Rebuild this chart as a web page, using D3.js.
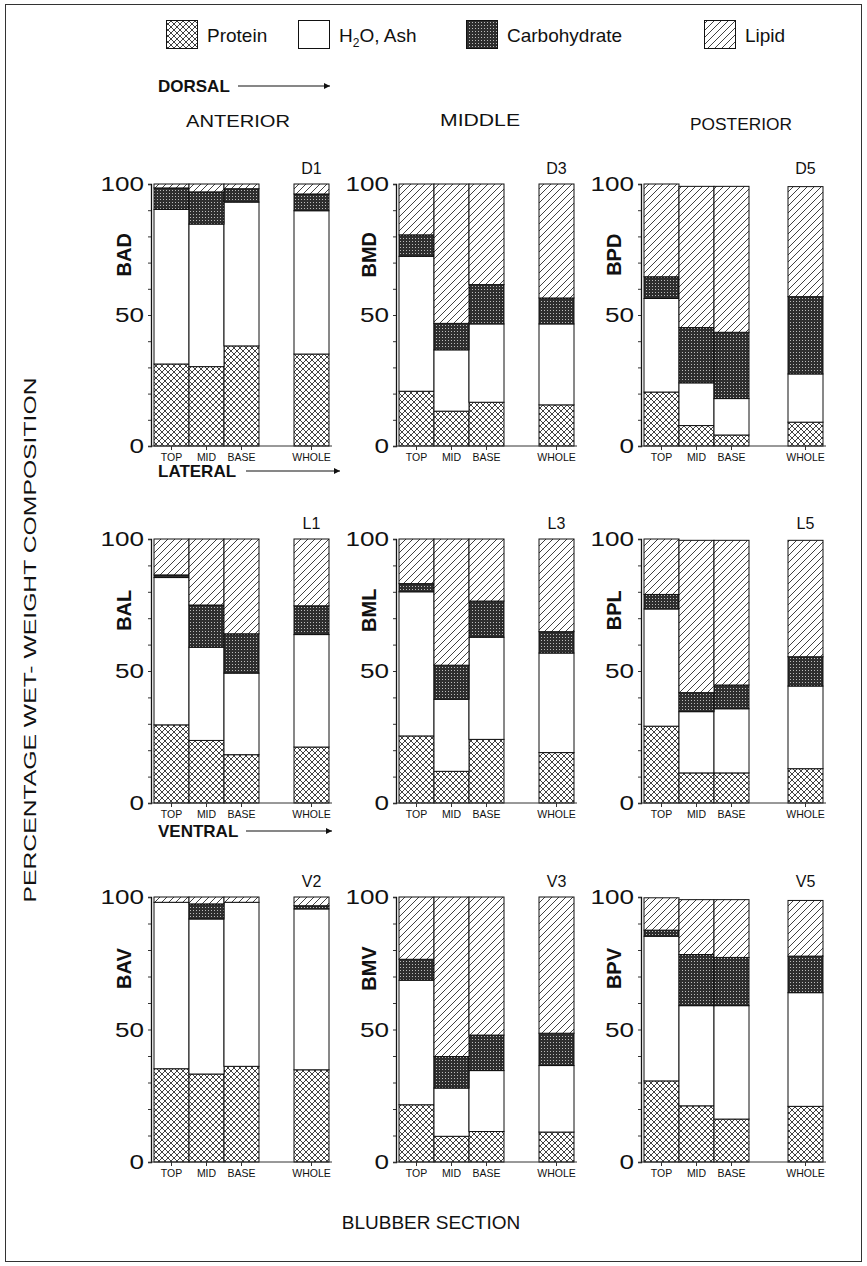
<!DOCTYPE html>
<html>
<head>
<meta charset="utf-8">
<script src="https://cdn.jsdelivr.net/npm/d3@7"></script>
<style>
  html, body { margin: 0; padding: 0; background: #fff; }
  svg { display: block; font-family: "Liberation Sans", Arial, Helvetica, sans-serif; }
</style>
</head>
<body>
<svg id="chart" width="867" height="1266"></svg>
<script>
// Blubber composition (% wet weight) by section for nine sampling sites.
const panelNames = ["BAD", "BMD", "BPD", "BAL", "BML", "BPL", "BAV", "BMV", "BPV"];
const siteCodes  = ["D1", "D3", "D5", "L1", "L3", "L5", "V2", "V3", "V5"];
const sections   = ["TOP", "MID", "BASE", "WHOLE"];
const regions    = ["DORSAL", "LATERAL", "VENTRAL"];
const positions  = ["ANTERIOR", "MIDDLE", "POSTERIOR"];
const yTicks     = [0, 10, 20, 30, 40, 50, 60, 70, 80, 90, 100];
const yLabels    = [0, 50, 100];

// one row per panel, values for TOP, MID, BASE, WHOLE
const protein = [
  [31.3, 30.3, 38.2, 35.1],
  [20.9, 13.3, 16.7, 15.7],
  [20.6,  7.8,  4.2,  9.1],
  [29.6, 23.7, 18.3, 21.2],
  [25.4, 12.0, 24.1, 19.1],
  [29.1, 11.4, 11.4, 13.0],
  [35.2, 33.2, 36.1, 34.8],
  [21.6,  9.7, 11.5, 11.3],
  [30.6, 21.2, 16.2, 21.0]
];
const waterAsh = [
  [59.0, 54.4, 54.9, 54.7],
  [51.5, 23.4, 29.9, 30.9],
  [35.7, 16.3, 13.9, 18.4],
  [55.8, 35.3, 30.9, 42.6],
  [54.6, 27.3, 38.7, 37.7],
  [44.4, 23.2, 24.3, 31.3],
  [62.8, 58.5, 61.9, 60.7],
  [47.0, 18.2, 23.0, 25.1],
  [54.6, 37.8, 42.8, 42.9]
];
const carbohydrate = [
  [ 8.2, 12.3,  5.1,  6.4],
  [ 8.2, 10.1, 15.0,  9.9],
  [ 8.3, 21.1, 25.3, 29.5],
  [ 1.0, 16.0, 14.9, 10.9],
  [ 3.1, 12.9, 13.7,  8.1],
  [ 5.5,  7.2,  9.0, 11.1],
  [ 0.0,  5.7,  0.0,  1.2],
  [ 7.9, 11.9, 13.4, 12.2],
  [ 2.3, 19.3, 18.2, 13.8]
];
const lipid = [
  [ 1.5,  3.0,  1.8,  3.8],
  [19.4, 53.2, 38.4, 43.5],
  [35.4, 53.9, 55.7, 42.0],
  [13.6, 25.0, 35.9, 25.3],
  [16.9, 47.8, 23.5, 35.1],
  [21.0, 57.7, 54.8, 44.1],
  [ 2.0,  2.6,  2.0,  3.3],
  [23.5, 60.2, 52.1, 51.4],
  [12.2, 20.7, 21.8, 21.0]
];

const keys = ["protein", "waterAsh", "carbohydrate", "lipid"];
const legendLabels = ["Protein", "H2O, Ash", "Carbohydrate", "Lipid"];

const svg = d3.select("#chart");
const defs = svg.append("defs");

// fill patterns
const pCross = defs.append("pattern").attr("id", "pat-protein")
  .attr("patternUnits", "userSpaceOnUse").attr("width", 6).attr("height", 6);
pCross.append("rect").attr("width", 6).attr("height", 6).attr("fill", "#fff");
pCross.append("path").attr("d", "M0,0L6,6M6,0L0,6")
  .attr("stroke", "#111").attr("stroke-width", 0.8).attr("fill", "none");

const pWater = defs.append("pattern").attr("id", "pat-waterAsh")
  .attr("patternUnits", "userSpaceOnUse").attr("width", 6).attr("height", 6);
pWater.append("rect").attr("width", 6).attr("height", 6).attr("fill", "#fff");

const pCarb = defs.append("pattern").attr("id", "pat-carbohydrate")
  .attr("patternUnits", "userSpaceOnUse").attr("width", 3).attr("height", 3);
pCarb.append("rect").attr("width", 3).attr("height", 3).attr("fill", "#2e2e2e");
pCarb.append("rect").attr("x", 1).attr("y", 1).attr("width", 1).attr("height", 1).attr("fill", "#bbb");

const pLipid = defs.append("pattern").attr("id", "pat-lipid")
  .attr("patternUnits", "userSpaceOnUse").attr("width", 7).attr("height", 7);
pLipid.append("rect").attr("width", 7).attr("height", 7).attr("fill", "#fff");
pLipid.append("path").attr("d", "M0,7L7,0M-1,1L1,-1M6,8L8,6")
  .attr("stroke", "#111").attr("stroke-width", 0.8).attr("fill", "none");

const arrowMarker = defs.append("marker").attr("id", "arrowhead")
  .attr("viewBox", "0 0 10 10").attr("refX", 10).attr("refY", 5)
  .attr("markerWidth", 14).attr("markerHeight", 6).attr("markerUnits", "userSpaceOnUse")
  .attr("orient", "auto");
arrowMarker.append("path").attr("d", "M0,0L10,5L0,10Z").attr("fill", "#111");

// outer frame
svg.append("rect").attr("x", 5.5).attr("y", 4.5).attr("width", 856).attr("height", 1257)
  .attr("fill", "none").attr("stroke", "#333").attr("stroke-width", 1);

// legend
const legendX = [166, 298, 466, 704];
const legend = svg.append("g");
keys.forEach((k, i) => {
  legend.append("rect").attr("x", legendX[i] + 0.5).attr("y", 20.5).attr("width", 31).attr("height", 28)
    .attr("fill", `url(#pat-${k})`).attr("stroke", "#111").attr("stroke-width", 1);
  const t = legend.append("text").attr("x", legendX[i] + 41).attr("y", 42)
    .attr("font-size", 19).attr("fill", "#111");
  if (k === "waterAsh") {
    t.append("tspan").text("H");
    t.append("tspan").attr("font-size", 12).attr("dy", 5).text("2");
    t.append("tspan").attr("dy", -5).text("O, Ash");
  } else {
    t.text(legendLabels[i]);
  }
});

// region headers with arrows
const regionY = [92, 477, 837];
const arrowSpan = [[238, 330], [246, 340], [246, 332]];
regions.forEach((r, i) => {
  svg.append("text").attr("x", 158).attr("y", regionY[i]).attr("font-size", 17)
    .attr("font-weight", "bold").attr("fill", "#111").text(r);
  svg.append("line").attr("x1", arrowSpan[i][0]).attr("x2", arrowSpan[i][1])
    .attr("y1", regionY[i] - 6).attr("y2", regionY[i] - 6)
    .attr("stroke", "#111").attr("stroke-width", 1.2).attr("marker-end", "url(#arrowhead)");
});

// position headers
const posX = [238, 480, 741];
const posY = [127, 126, 130];
const posLen = [104, 80, 102];
positions.forEach((p, i) => {
  svg.append("text").attr("x", posX[i]).attr("y", posY[i]).attr("text-anchor", "middle")
    .attr("font-size", 16).attr("fill", "#111")
    .attr("textLength", posLen[i]).attr("lengthAdjust", "spacingAndGlyphs").text(p);
});

// axis titles
svg.append("text").attr("transform", "translate(36,640) rotate(-90)")
  .attr("text-anchor", "middle").attr("font-size", 17).attr("fill", "#111")
  .attr("textLength", 525).attr("lengthAdjust", "spacingAndGlyphs")
  .text("PERCENTAGE WET- WEIGHT COMPOSITION");
svg.append("text").attr("x", 431).attr("y", 1229).attr("text-anchor", "middle")
  .attr("font-size", 19).attr("fill", "#111").text("BLUBBER SECTION");

// panel geometry
const colAxisX = [151, 396, 641];
const rowTop = [184, 539, 897];
const rowBottom = [446, 803, 1162];
const barW = 35;
const wholeGap = [0, 0, 4];

panelNames.forEach((name, p) => {
  const row = Math.floor(p / 3), col = p % 3;
  const ax = colAxisX[col];
  const y = d3.scaleLinear().domain([0, 100]).range([rowBottom[row], rowTop[row]]);
  const x = d3.scaleBand().domain(["TOP", "MID", "BASE", "gap", "WHOLE"])
    .range([ax + 3, ax + 3 + barW * 5]).paddingInner(0).paddingOuter(0);
  const bx = s => x(s) + (s === "WHOLE" ? wholeGap[col] : 0);
  const endX = ax + 3 + barW * 5 + wholeGap[col] + 3;

  const rows = sections.map((s, j) => ({
    section: s,
    protein: protein[p][j],
    waterAsh: waterAsh[p][j],
    carbohydrate: carbohydrate[p][j],
    lipid: lipid[p][j]
  }));
  const stacked = d3.stack().keys(keys)(rows);

  const g = svg.append("g");

  // stacked bars
  stacked.forEach(layer => {
    g.append("g").selectAll("rect").data(layer.filter(d => d[1] - d[0] > 0)).join("rect")
      .attr("x", d => bx(d.data.section))
      .attr("y", d => y(d[1]))
      .attr("width", x.bandwidth())
      .attr("height", d => y(d[0]) - y(d[1]))
      .attr("fill", `url(#pat-${layer.key})`)
      .attr("stroke", "#111").attr("stroke-width", 1);
  });

  // y axis with minor ticks every 10
  const yAxis = d3.axisLeft(y).tickValues(yTicks).tickSize(3).tickFormat("");
  const ya = g.append("g").attr("transform", `translate(${ax},0)`).call(yAxis);
  ya.select(".domain").attr("stroke", "#111").attr("stroke-width", 1.3);
  ya.selectAll(".tick line").attr("stroke", "#333");

  g.selectAll(".ylab").data(yLabels).join("text")
    .attr("x", ax - 7).attr("y", d => y(d) + 7).attr("text-anchor", "end")
    .attr("font-size", 20).attr("fill", "#111")
    .attr("textLength", d => String(d).length * 14.5).attr("lengthAdjust", "spacingAndGlyphs")
    .text(d => d);

  // baseline and section ticks
  const xAxis = d3.axisBottom(x).tickValues(sections).tickSize(4).tickFormat("");
  const xa = g.append("g").attr("transform", `translate(0,${y(0)})`).call(xAxis);
  xa.select(".domain").attr("d", `M${ax},0H${endX}`)
    .attr("stroke", "#333").attr("stroke-width", 1);
  xa.selectAll(".tick line").attr("stroke", "#333")
    .attr("transform", d => `translate(${d === "WHOLE" ? wholeGap[col] : 0},0)`);

  g.selectAll(".xlab").data(sections).join("text")
    .attr("x", d => bx(d) + x.bandwidth() / 2).attr("y", y(0) + 15)
    .attr("text-anchor", "middle").attr("font-size", 10.5).attr("fill", "#111")
    .text(d => d);

  // panel name and site code
  g.append("text")
    .attr("transform", `translate(${ax - 20},${y(73)}) rotate(-90)`)
    .attr("text-anchor", "middle").attr("font-size", 20).attr("font-weight", "bold")
    .attr("fill", "#111").text(name);
  g.append("text").attr("x", bx("WHOLE") + x.bandwidth() / 2).attr("y", y(100) - 10)
    .attr("text-anchor", "middle").attr("font-size", 16).attr("fill", "#111")
    .text(siteCodes[p]);
});
</script>
</body>
</html>
